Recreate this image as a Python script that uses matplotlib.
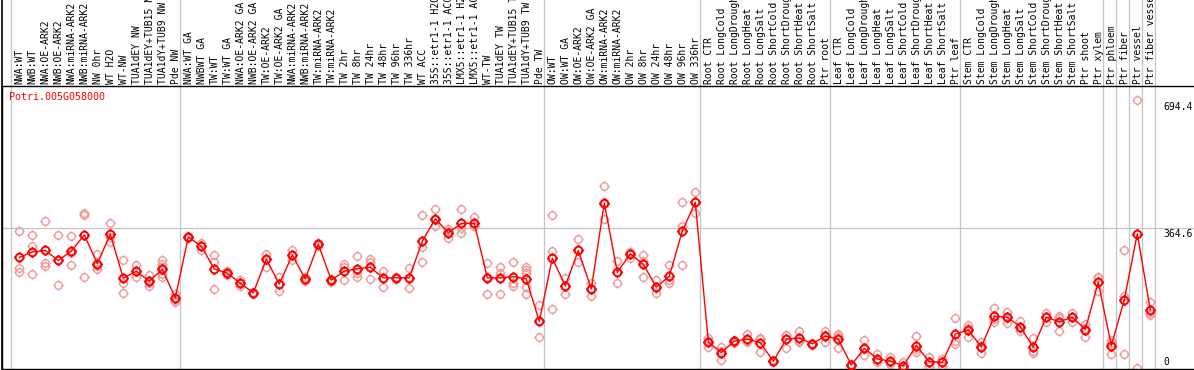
import numpy as np
import matplotlib
matplotlib.use("Agg")
import matplotlib.pyplot as plt
from matplotlib.path import Path
from matplotlib.transforms import blended_transform_factory

gene = "Potri.005G058000"

samples = [
    "NWA:WT", "NWB:WT", "NWA:OE-ARK2", "NWB:OE-ARK2", "NWA:miRNA-ARK2", "NWB:miRNA-ARK2",
    "NW 0hr", "WT H2O", "WT-NW", "TUA1dEY NW", "TUA1dEY+TUB15 NW", "TUA1dY+TUB9 NW", "Pde NW",
    "NWA:WT GA", "NWBWT GA", "TW:WT", "TW:WT GA", "NWA:OE-ARK2 GA", "NWB:OE-ARK2 GA",
    "TW:OE-ARK2", "TW:OE-ARK2 GA", "NWA:miRNA-ARK2", "NWB:miRNA-ARK2", "TW:miRNA-ARK2",
    "TW:miRNA-ARK2", "TW 2hr", "TW 8hr", "TW 24hr", "TW 48hr", "TW 96hr", "TW 336hr", "WT ACC",
    "35S::etr1-1 H2O", "35S::etr1-1 ACC", "LMX5::etr1-1 H2O", "LMX5::etr1-1 ACC", "WT-TW",
    "TUA1dEY TW", "TUA1dEY+TUB15 TW", "TUA1dY+TUB9 TW", "Pde TW",
    "OW:WT", "OW:WT GA", "OW:OE-ARK2", "OW:OE-ARK2 GA", "OW:miRNA-ARK2", "OW:miRNA-ARK2",
    "OW 2hr", "OW 8hr", "OW 24hr", "OW 48hr", "OW 96hr", "OW 336hr",
    "Root CTR", "Root LongCold", "Root LongDrought", "Root LongHeat", "Root LongSalt",
    "Root ShortCold", "Root ShortDrought", "Root ShortHeat", "Root ShortSalt", "Ptr root",
    "Leaf CTR", "Leaf LongCold", "Leaf LongDrought", "Leaf LongHeat", "Leaf LongSalt",
    "Leaf ShortCold", "Leaf ShortDrought", "Leaf ShortHeat", "Leaf ShortSalt", "Ptr leaf",
    "Stem CTR", "Stem LongCold", "Stem LongDrought", "Stem LongHeat", "Stem LongSalt",
    "Stem ShortCold", "Stem ShortDrought", "Stem ShortHeat", "Stem ShortSalt", "Ptr shoot",
    "Ptr xylem", "Ptr phloem", "Ptr fiber", "Ptr vessel", "Ptr fiber vessel",
]

means = [
    288, 302, 306, 280, 304, 346, 272, 348, 234, 252, 226, 257, 183,
    341, 317, 258, 247, 221, 196, 283, 219, 294, 232, 322, 229, 252, 259, 262,
    235, 235, 235, 330, 388, 352, 376, 376, 235, 235, 238, 232, 122,
    286, 214, 306, 206, 429, 249, 297, 270, 211, 239, 356, 431,
    69, 41, 71, 76, 67, 19, 76, 79, 64, 84,
    76, 9, 52, 25, 19, 7, 59, 18, 16, 89,
    100, 56, 135, 133, 108, 55, 133, 121, 133, 101,
    224, 59, 178, 349, 152,
]

replicates = [
    [356, 260, 249], [346, 317, 244], [382, 273, 266], [345, 280, 216], [343, 300, 268],
    [404, 397, 236], [297, 266, 259], [376, 340, 329], [281, 222, 195], [268, 252, 238],
    [242, 221, 214], [281, 272, 263, 245, 238], [193, 178, 173],
    [344, 341, 337], [326, 317, 307], [294, 276, 206], [252, 247, 241], [229, 221, 214],
    [198, 196, 192], [297, 283, 264], [236, 219, 201], [307, 294, 281], [237, 232, 227],
    [325, 322, 318], [233, 228, 224], [271, 264, 229], [291, 247, 238], [285, 277, 232],
    [252, 235, 210], [237, 234, 232], [260, 235, 208], [398, 316, 276], [413, 385, 368],
    [362, 356, 337], [413, 365, 350], [393, 368, 368], [273, 238, 192], [263, 248, 192],
    [275, 221, 214], [262, 255, 247, 210, 192], [164, 122, 81],
    [397, 305, 154], [234, 215, 192], [336, 306, 277], [221, 208, 189], [473, 427, 387],
    [279, 249, 221], [303, 301, 286], [294, 279, 236], [229, 208, 196], [267, 229, 221],
    [432, 368, 267], [458, 432, 402],
    [78, 71, 57], [55, 46, 22], [74, 70, 67], [89, 72, 69], [80, 77, 44],
    [22, 19, 17], [88, 86, 53], [96, 72, 69], [66, 64, 61], [98, 86, 69],
    [89, 85, 52], [11, 9, 7], [73, 50, 34], [38, 22, 17], [29, 18, 12],
    [18, 2, 0], [84, 50, 44], [31, 16, 6], [25, 16, 7], [131, 70, 64],
    [113, 106, 81], [69, 59, 39], [156, 129, 121], [147, 132, 119], [122, 105, 98],
    [79, 46, 39], [143, 134, 121], [136, 130, 98], [143, 134, 121], [115, 105, 81],
    [236, 236, 201], [74, 66, 38], [307, 188, 38], [697, 0], [173, 143, 139],
]

group_starts = [0, 13, 41, 53, 63, 73, 84, 85, 86, 87, 88]
ref_ticks = [694.4, 364.6, 0]

# ---------------------------------------------------------------- figure
W, H = 1194, 370
fig = plt.figure(figsize=(W / 100, H / 100), dpi=100)
ax = fig.add_axes([1.5 / W, (H - 369) / H, (W - 1.5) / W, (369 - 86) / H])
ax.set_xlim(-1.369, 90.362)
ax.set_ylim(-1.3, 732.05)
ax.set_xticks([])
ax.set_yticks([])
for s in ["top", "bottom", "left"]:
    ax.spines[s].set_color("black")
    ax.spines[s].set_linewidth(1.0)
ax.spines["right"].set_visible(False)

mono = "DejaVu Sans Mono"
ext = (369 - 0) / (369 - 86)  # axes fraction reaching the figure top

# group separators
for g in group_starts:
    ax.axvline(g - 0.64, ymin=0, ymax=ext, color="#C4C4C4", lw=0.9,
               clip_on=False, zorder=0)
ax.axvline(-1.369, ymin=0, ymax=ext, color="black", lw=1.2, clip_on=False, zorder=5)
ax.axhline(364.6, color="#C4C4C4", lw=0.9, zorder=0)

# marker: circle with small ticks
circ = Path.circle((0, 0), 1.0)
tk = 1.38
ticks = Path([[0, 1], [0, tk], [0, -1], [0, -tk], [1, 0], [tk, 0], [-1, 0], [-tk, 0]],
             [Path.MOVETO, Path.LINETO] * 4)
mk = Path.make_compound_path(circ, ticks)

x = np.arange(len(samples))
for i, reps in enumerate(replicates):
    ax.plot([x[i]] * len(reps), reps, ls="none", marker=mk, ms=7.4,
            mec="#EE9A9A", mfc="none", mew=1.0, zorder=2, clip_on=False)
ax.plot(x, means, color="red", lw=1.0, zorder=3)
ax.plot(x, means, ls="none", marker=mk, ms=7.6, mec="red", mfc="none",
        mew=1.4, zorder=4)

# sample labels above the plot
lab_tr = blended_transform_factory(ax.transData, ax.transAxes)
for i, name in enumerate(samples):
    ax.text(x[i] + 0.02, 1.0 + 2.0 / 283, name, transform=lab_tr, rotation=90,
            ha="center", va="bottom", fontsize=7, family=mono, color="black",
            clip_on=False)

# gene name
ax.text(7.5 / 1192.5, (369 - 92) / 283, gene, transform=ax.transAxes,
        ha="left", va="top", fontsize=7.2, family=mono, color="red")

# value labels on the right
val_tr = blended_transform_factory(ax.transAxes, ax.transData)
xr = (1163 - 1.5) / 1192.5
for v in ref_ticks:
    lab = f"{v:g}" if v == 0 else f"{v:.1f}"
    if v == 0:
        ax.text(xr, v + 4, lab, transform=val_tr, ha="left", va="bottom",
                fontsize=7, family=mono, color="black")
    else:
        ax.text(xr, v - 3, lab, transform=val_tr, ha="left", va="top",
                fontsize=7, family=mono, color="black")

fig.savefig("out.png", dpi=100)
